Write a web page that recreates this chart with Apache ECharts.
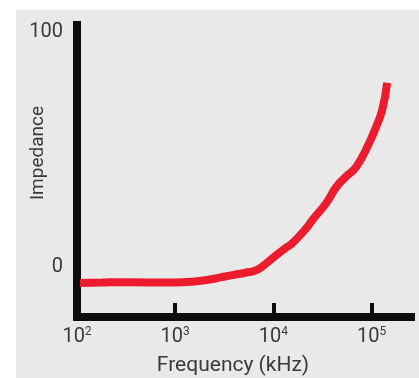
<!DOCTYPE html>
<html>
<head>
<meta charset="utf-8">
<script src="https://cdn.jsdelivr.net/npm/echarts@6/dist/echarts.min.js"></script>
<style>
    html, body { margin: 0; padding: 0; background: #ffffff; }
    #box { position: absolute; left: 16px; top: 10px; width: 403px; height: 368px; background: #e9e9e9; }
    #chart { position: absolute; left: 0; top: 0; width: 419px; height: 378px; }
</style>
</head>
<body>
<div id="box"></div>
<div id="chart"></div>
<script>
    // frequency in kHz, impedance in chart units
    const freq = [107, 180, 273, 500, 1000, 1500, 2090, 2900, 3840, 5200, 6700, 8500,
        10700, 13000, 15600, 21600, 24900, 34500, 43600, 55000, 69700, 94400, 111000, 128000, 143600]
    const impedance = [-6.8, -6.6, -6.4, -6.5, -6.5, -6.2, -5.5, -4.4, -3.4, -2.4, -1.3, 1.7,
        5.1, 7.8, 10.2, 16.5, 20, 27.2, 34, 38.5, 42.6, 52.8, 59.6, 66.8, 78.3]
    const xTicks = [3, 4, 5]
    const xLabels = [2, 3, 4, 5]
    const yLabels = [0, 100]

    const chart = echarts.init(document.getElementById('chart'), null, { renderer: 'canvas' })
    const axisColor = '#0d0d0d'
    const textColor = '#3a3a3a'

    const option = {
        backgroundColor: 'transparent',
        animation: false,
        textStyle: { fontFamily: 'Roboto' },
        grid: { left: 77, right: 8, top: 25, bottom: 61, outerBoundsMode: 'none', containLabel: false },
        xAxis: {
            type: 'value',
            min: 2,
            max: 5.4,
            interval: 1,
            name: 'Frequency (kHz)',
            nameLocation: 'middle',
            nameGap: 38,
            nameMoveOverlap: false,
            nameTextStyle: { fontSize: 21, color: textColor, padding: [0, 22, 0, 0] },
            splitLine: { show: false },
            axisLine: { onZero: false, lineStyle: { color: axisColor, width: 8, cap: 'square' } },
            axisTick: {
                show: true, inside: true, length: 14, customValues: xTicks,
                lineStyle: { color: axisColor, width: 4 }
            },
            axisLabel: {
                customValues: xLabels,
                margin: 9,
                color: textColor,
                formatter: v => '{b|10}{s|' + v + '}',
                rich: {
                    b: { fontSize: 20, color: textColor, fontFamily: 'Roboto' },
                    s: { fontSize: 12, color: textColor, fontFamily: 'Roboto', padding: [0, 0, 9, 0] }
                }
            }
        },
        yAxis: {
            type: 'value',
            min: -21.2,
            max: 102.8,
            name: 'Impedance',
            nameLocation: 'middle',
            nameGap: 29,
            nameMoveOverlap: false,
            nameTextStyle: { fontSize: 19, color: textColor, padding: [0, 0, 0, 36] },
            splitLine: { show: false },
            axisLine: { show: true, onZero: false, lineStyle: { color: axisColor, width: 8, cap: 'square' } },
            axisTick: { show: false },
            axisLabel: {
                customValues: yLabels,
                margin: 14,
                fontSize: 20,
                color: textColor
            }
        },
        series: [{
            type: 'line',
            smooth: true,
            showSymbol: false,
            data: freq.map((f, i) => [Math.log10(f), impedance[i]]),
            lineStyle: { color: '#ec1c2e', width: 8, cap: 'butt' }
        }]
    }
    chart.setOption(option)
</script>
</body>
</html>
